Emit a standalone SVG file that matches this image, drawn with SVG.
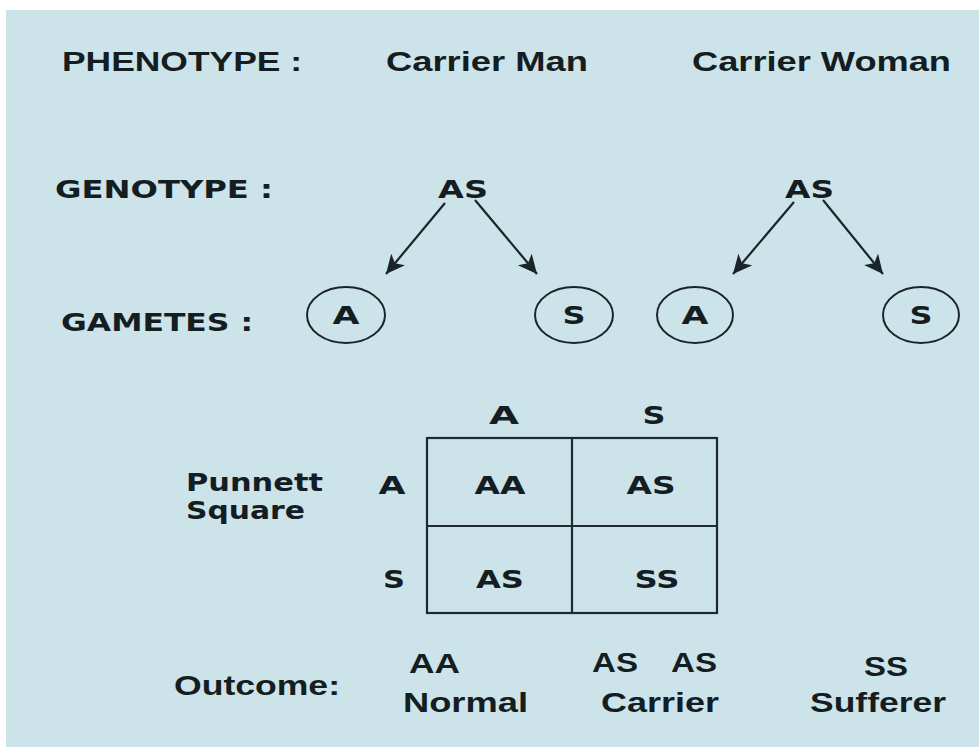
<svg xmlns="http://www.w3.org/2000/svg" width="979" height="747" viewBox="0 0 979 747">
  <defs>
    <style>
      .bg { fill: #cce3e9; }
      .t { fill: #141d21; font-weight: 700; }
      .h { font-family: "Liberation Sans", Arial, sans-serif; font-size: 27px; }
      .g { font-family: "DejaVu Sans", "Liberation Sans", sans-serif; font-size: 25px; }
      .link { stroke: #1b2529; stroke-width: 2.2; fill: none; }
      .gamete { fill: none; stroke: #1b2529; stroke-width: 2; }
      .grid { fill: none; stroke: #1e2a2f; stroke-width: 2.2; }
    </style>
    <marker id="arrow" markerUnits="userSpaceOnUse" markerWidth="24" markerHeight="20" refX="19" refY="9" orient="auto">
      <path d="M0,0 L19,9 L0,18 L5,9 z" fill="#1b2529"/>
    </marker>
  </defs>

  <!-- page and panel -->
  <rect x="0" y="0" width="979" height="747" fill="#ffffff"/>
  <rect class="bg" x="6" y="10" width="973" height="737"/>

  <!-- row headings -->
  <g id="phenotype-row">
    <text class="t h" x="62" y="71" textLength="240" lengthAdjust="spacingAndGlyphs">PHENOTYPE :</text>
    <text class="t h" x="386" y="71" textLength="202" lengthAdjust="spacingAndGlyphs">Carrier Man</text>
    <text class="t h" x="692" y="71" textLength="259" lengthAdjust="spacingAndGlyphs">Carrier Woman</text>
  </g>

  <g id="genotype-label">
    <text class="t g" x="55" y="198" textLength="218" lengthAdjust="spacingAndGlyphs">GENOTYPE :</text>
  </g>
  <g id="genotype-man">
    <text class="t g" x="438" y="198" textLength="50" lengthAdjust="spacingAndGlyphs">AS</text>
  </g>
  <g id="genotype-woman">
    <text class="t g" x="785" y="198" textLength="49" lengthAdjust="spacingAndGlyphs">AS</text>
  </g>

  <g id="gametes-label">
    <text class="t g" x="61" y="331" textLength="192" lengthAdjust="spacingAndGlyphs">GAMETES :</text>
  </g>

  <!-- gametes -->
  <g id="gamete-man-a">
    <ellipse class="gamete" cx="346" cy="315" rx="39" ry="28"/>
    <text class="t g" x="346" y="324" text-anchor="middle" textLength="27" lengthAdjust="spacingAndGlyphs">A</text>
  </g>
  <g id="gamete-man-s">
    <ellipse class="gamete" cx="574" cy="315" rx="39" ry="28"/>
    <text class="t g" x="574" y="324" text-anchor="middle" textLength="23" lengthAdjust="spacingAndGlyphs">S</text>
  </g>
  <g id="gamete-woman-a">
    <ellipse class="gamete" cx="695" cy="315" rx="38" ry="28"/>
    <text class="t g" x="695" y="324" text-anchor="middle" textLength="27" lengthAdjust="spacingAndGlyphs">A</text>
  </g>
  <g id="gamete-woman-s">
    <ellipse class="gamete" cx="921" cy="315" rx="38" ry="28"/>
    <text class="t g" x="921" y="324" text-anchor="middle" textLength="23" lengthAdjust="spacingAndGlyphs">S</text>
  </g>

  <!-- connectors: genotype to gametes -->
  <g id="connectors">
    <line class="link" x1="445" y1="203" x2="386" y2="274" marker-end="url(#arrow)"/>
    <line class="link" x1="475" y1="200" x2="537" y2="274" marker-end="url(#arrow)"/>
    <line class="link" x1="794" y1="202" x2="733" y2="274" marker-end="url(#arrow)"/>
    <line class="link" x1="823" y1="200" x2="883" y2="274" marker-end="url(#arrow)"/>
  </g>

  <!-- Punnett square -->
  <g id="punnett-label">
    <text class="t g" x="186" y="491" textLength="137" lengthAdjust="spacingAndGlyphs">Punnett</text>
    <text class="t g" x="186" y="519" textLength="119" lengthAdjust="spacingAndGlyphs">Square</text>
  </g>
  <g id="punnett-headers">
    <text class="t g" x="504" y="424" text-anchor="middle" textLength="30" lengthAdjust="spacingAndGlyphs">A</text>
    <text class="t g" x="654" y="424" text-anchor="middle" textLength="23" lengthAdjust="spacingAndGlyphs">S</text>
    <text class="t g" x="392" y="494" text-anchor="middle" textLength="27" lengthAdjust="spacingAndGlyphs">A</text>
    <text class="t g" x="394" y="588" text-anchor="middle" textLength="22" lengthAdjust="spacingAndGlyphs">S</text>
  </g>
  <g id="punnett-grid">
    <rect class="grid" x="427" y="438" width="290" height="175"/>
    <line class="grid" x1="572" y1="438" x2="572" y2="613"/>
    <line class="grid" x1="427" y1="526" x2="717" y2="526"/>
  </g>
  <g id="cell-aa">
    <text class="t g" x="500" y="494" text-anchor="middle" textLength="51" lengthAdjust="spacingAndGlyphs">AA</text>
  </g>
  <g id="cell-as-top">
    <text class="t g" x="651" y="494" text-anchor="middle" textLength="49" lengthAdjust="spacingAndGlyphs">AS</text>
  </g>
  <g id="cell-as-bottom">
    <text class="t g" x="500" y="588" text-anchor="middle" textLength="48" lengthAdjust="spacingAndGlyphs">AS</text>
  </g>
  <g id="cell-ss">
    <text class="t g" x="657" y="588" text-anchor="middle" textLength="45" lengthAdjust="spacingAndGlyphs">SS</text>
  </g>

  <!-- outcome -->
  <g id="outcome-label">
    <text class="t h" x="174" y="695" textLength="166" lengthAdjust="spacingAndGlyphs">Outcome:</text>
  </g>
  <g id="outcome-normal">
    <text class="t h" x="409" y="673" textLength="51" lengthAdjust="spacingAndGlyphs">AA</text>
    <text class="t h" x="403" y="712" textLength="125" lengthAdjust="spacingAndGlyphs">Normal</text>
  </g>
  <g id="outcome-carrier">
    <text class="t h" x="592" y="672" textLength="46" lengthAdjust="spacingAndGlyphs">AS</text>
    <text class="t h" x="671" y="672" textLength="46" lengthAdjust="spacingAndGlyphs">AS</text>
    <text class="t h" x="601" y="712" textLength="118" lengthAdjust="spacingAndGlyphs">Carrier</text>
  </g>
  <g id="outcome-sufferer">
    <text class="t h" x="864" y="676" textLength="44" lengthAdjust="spacingAndGlyphs">SS</text>
    <text class="t h" x="810" y="712" textLength="136" lengthAdjust="spacingAndGlyphs">Sufferer</text>
  </g>
</svg>
